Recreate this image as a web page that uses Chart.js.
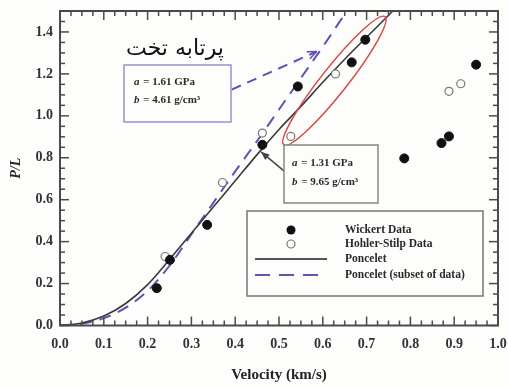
<!DOCTYPE html>
<html>
<head>
<meta charset="utf-8">
<script src="https://cdn.jsdelivr.net/npm/chart.js@4.4.1/dist/chart.umd.min.js"></script>
<style>
  html, body { margin: 0; padding: 0; background: #fdfdfb; }
  #wrap { width: 508px; height: 386px; }
</style>
</head>
<body>
<div id="wrap"><canvas id="chart" width="508" height="386"></canvas></div>
<script>
// measured points
const wickertV  = [0.221, 0.251, 0.336, 0.462, 0.543, 0.666, 0.697, 0.786, 0.871, 0.888, 0.950];
const wickertPL = [0.178, 0.313, 0.480, 0.862, 1.140, 1.255, 1.363, 0.797, 0.870, 0.902, 1.244];
const hohlerV   = [0.240, 0.371, 0.462, 0.527, 0.629, 0.888, 0.915];
const hohlerPL  = [0.329, 0.682, 0.918, 0.902, 1.200, 1.117, 1.153];

// fitted curves
const ponceletV   = [0, 0.05, 0.10, 0.15, 0.20, 0.25, 0.30, 0.35, 0.40, 0.45, 0.50, 0.55, 0.60, 0.65, 0.70, 0.76];
const ponceletPL  = [0, 0.012, 0.045, 0.105, 0.195, 0.315, 0.44, 0.565, 0.69, 0.815, 0.935, 1.045, 1.16, 1.27, 1.375, 1.5];
const subsetV     = [0, 0.05, 0.10, 0.15, 0.20, 0.25, 0.30, 0.35, 0.40, 0.45, 0.50, 0.55, 0.60, 0.655];
const subsetPL    = [0, 0.008, 0.035, 0.085, 0.165, 0.285, 0.435, 0.585, 0.735, 0.88, 1.03, 1.18, 1.33, 1.5];

const xTicks = [0, 0.1, 0.2, 0.3, 0.4, 0.5, 0.6, 0.7, 0.8, 0.9, 1.0];
const yTicks = [0, 0.2, 0.4, 0.6, 0.8, 1.0, 1.2, 1.4];

const seriesNames = ['Wickert Data', 'Hohler-Stilp Data', 'Poncelet', 'Poncelet (subset of data)'];

// annotation anchors in data units
const arrowSubset  = [[0.392, 1.125], [0.586, 1.307]];
const arrowFull    = [[0.514, 0.733], [0.459, 0.828]];
const ellipseEnds  = [[0.511, 0.862], [0.742, 1.473]];

const SERIF = '"Liberation Serif", "Times New Roman", serif';
const PURPLE = '#5e52b5';

function toPts(xs, ys) {
  return xs.map((x, i) => ({ x: x, y: ys[i] }));
}

function line(ctx, x1, y1, x2, y2) {
  ctx.beginPath();
  ctx.moveTo(x1, y1);
  ctx.lineTo(x2, y2);
  ctx.stroke();
}

function arrowHead(ctx, x1, y1, x2, y2, size, filled) {
  const ang = Math.atan2(y2 - y1, x2 - x1);
  ctx.beginPath();
  ctx.moveTo(x2, y2);
  ctx.lineTo(x2 - size * Math.cos(ang - 0.4), y2 - size * Math.sin(ang - 0.4));
  if (filled) {
    ctx.lineTo(x2 - size * Math.cos(ang + 0.4), y2 - size * Math.sin(ang + 0.4));
    ctx.closePath();
    ctx.fill();
  } else {
    ctx.moveTo(x2, y2);
    ctx.lineTo(x2 - size * Math.cos(ang + 0.4), y2 - size * Math.sin(ang + 0.4));
    ctx.stroke();
  }
}

function paramText(ctx, x, y, sym, rest) {
  ctx.font = 'italic bold 11px ' + SERIF;
  ctx.fillText(sym, x, y);
  const w = ctx.measureText(sym).width;
  ctx.font = 'bold 11px ' + SERIF;
  ctx.fillText(rest, x + w + 1, y);
}

const extras = {
  id: 'extras',
  beforeDraw(chart) {
    const ctx = chart.ctx;
    ctx.save();
    ctx.fillStyle = '#fdfdfb';
    ctx.fillRect(0, 0, chart.width, chart.height);
    ctx.restore();
  },
  afterDraw(chart) {
    const ctx = chart.ctx;
    const xs = chart.scales.x, ys = chart.scales.y, a = chart.chartArea;
    const px = v => xs.getPixelForValue(v);
    const py = v => ys.getPixelForValue(v);
    ctx.save();

    // frame + inward ticks on all four sides
    ctx.strokeStyle = '#4a4a4a';
    ctx.lineWidth = 1.5;
    for (let i = 0; i <= 40; i++) {
      const x = px(i * 0.025);
      const len = i % 4 === 0 ? 9 : 5;
      line(ctx, x, a.bottom, x, a.bottom - len);
      line(ctx, x, a.top, x, a.top + len);
    }
    for (let i = 0; i <= 30; i++) {
      const y = py(i * 0.05);
      const len = i % 4 === 0 ? 9 : 5;
      line(ctx, a.left, y, a.left + len, y);
      line(ctx, a.right, y, a.right - len, y);
    }
    ctx.lineWidth = 2;
    ctx.strokeRect(a.left, a.top, a.right - a.left, a.bottom - a.top);

    // red ellipse round the subset points
    const e1x = px(ellipseEnds[0][0]), e1y = py(ellipseEnds[0][1]);
    const e2x = px(ellipseEnds[1][0]), e2y = py(ellipseEnds[1][1]);
    const cx = (e1x + e2x) / 2, cy = (e1y + e2y) / 2;
    const rx = Math.hypot(e2x - e1x, e2y - e1y) / 2;
    ctx.strokeStyle = '#d8474c';
    ctx.lineWidth = 1.5;
    ctx.beginPath();
    ctx.ellipse(cx, cy, rx, 13, Math.atan2(e2y - e1y, e2x - e1x), 0, Math.PI * 2);
    ctx.stroke();

    // dashed pointer to the subset curve
    let ax1 = px(arrowSubset[0][0]), ay1 = py(arrowSubset[0][1]);
    let ax2 = px(arrowSubset[1][0]), ay2 = py(arrowSubset[1][1]);
    ctx.strokeStyle = PURPLE;
    ctx.lineWidth = 2;
    ctx.setLineDash([10, 7]);
    line(ctx, ax1, ay1, ax2, ay2);
    ctx.setLineDash([]);
    ctx.lineWidth = 1.5;
    arrowHead(ctx, ax1, ay1, ax2, ay2, 10, false);

    // solid pointer to the full curve
    ax1 = px(arrowFull[0][0]); ay1 = py(arrowFull[0][1]);
    ax2 = px(arrowFull[1][0]); ay2 = py(arrowFull[1][1]);
    ctx.strokeStyle = '#444';
    ctx.fillStyle = '#444';
    ctx.lineWidth = 1.5;
    line(ctx, ax1, ay1, ax2, ay2);
    arrowHead(ctx, ax1, ay1, ax2, ay2, 9, true);

    // parameter boxes
    ctx.fillStyle = '#fdfdfb';
    ctx.fillRect(124, 65, 107, 57);
    ctx.strokeStyle = '#9a8fd0';
    ctx.lineWidth = 1.5;
    ctx.strokeRect(124, 65, 107, 57);
    ctx.fillStyle = '#2a2a2a';
    ctx.textBaseline = 'middle';
    ctx.textAlign = 'left';
    paramText(ctx, 134, 82, 'a', ' = 1.61 GPa');
    paramText(ctx, 134, 100, 'b', ' = 4.61 g/cm\u00B3');

    ctx.fillStyle = '#fdfdfb';
    ctx.fillRect(284, 145, 94, 58);
    ctx.strokeStyle = '#8a8580';
    ctx.strokeRect(284, 145, 94, 58);
    ctx.fillStyle = '#2a2a2a';
    paramText(ctx, 292, 163, 'a', ' = 1.31 GPa');
    paramText(ctx, 292, 182, 'b', ' = 9.65 g/cm\u00B3');

    // legend
    ctx.fillStyle = '#fdfdfb';
    ctx.fillRect(247, 211, 236, 85);
    ctx.strokeStyle = '#777';
    ctx.lineWidth = 1.5;
    ctx.strokeRect(247, 211, 236, 85);
    const rows = [230, 244, 259, 275];
    ctx.fillStyle = '#111';
    ctx.beginPath(); ctx.arc(291, rows[0], 4.5, 0, Math.PI * 2); ctx.fill();
    ctx.strokeStyle = '#777'; ctx.lineWidth = 1.2;
    ctx.beginPath(); ctx.arc(291, rows[1], 4, 0, Math.PI * 2); ctx.stroke();
    ctx.strokeStyle = '#555'; ctx.lineWidth = 1.8;
    line(ctx, 255, rows[2], 327, rows[2]);
    ctx.strokeStyle = PURPLE; ctx.lineWidth = 2;
    ctx.setLineDash([15, 9]);
    line(ctx, 255, rows[3], 327, rows[3]);
    ctx.setLineDash([]);
    ctx.fillStyle = '#2a2a2a';
    ctx.font = 'bold 11.5px ' + SERIF;
    seriesNames.forEach((n, i) => ctx.fillText(n, 345, rows[i]));

    // Persian caption
    ctx.font = '22px "DejaVu Sans", "Noto Sans", sans-serif';
    ctx.fillStyle = '#111';
    ctx.textAlign = 'center';
    ctx.direction = 'rtl';
    ctx.fillText('پرتابه تخت', 175, 49);

    ctx.restore();
  }
};

new Chart(document.getElementById('chart'), {
  type: 'scatter',
  data: {
    datasets: [
      {
        label: seriesNames[0],
        data: toPts(wickertV, wickertPL),
        pointRadius: 4.5,
        pointBackgroundColor: '#111',
        pointBorderColor: '#111',
        pointBorderWidth: 1,
        order: 1
      },
      {
        label: seriesNames[1],
        data: toPts(hohlerV, hohlerPL),
        pointRadius: 4,
        pointBackgroundColor: '#fdfdfb',
        pointBorderColor: '#777',
        pointBorderWidth: 1.2,
        order: 2
      },
      {
        label: seriesNames[2],
        data: toPts(ponceletV, ponceletPL),
        showLine: true,
        pointRadius: 0,
        borderColor: '#3a3a3a',
        borderWidth: 1.6,
        cubicInterpolationMode: 'monotone',
        order: 3
      },
      {
        label: seriesNames[3],
        data: toPts(subsetV, subsetPL),
        showLine: true,
        pointRadius: 0,
        borderColor: PURPLE,
        borderWidth: 2,
        borderDash: [12, 8],
        cubicInterpolationMode: 'monotone',
        order: 4
      }
    ]
  },
  options: {
    responsive: false,
    animation: false,
    events: [],
    layout: { padding: { left: 0, right: 10, top: 11, bottom: 0 } },
    plugins: {
      legend: { display: false },
      tooltip: { enabled: false }
    },
    scales: {
      x: {
        type: 'linear',
        min: 0,
        max: 1,
        afterFit: s => { s.height = 60.5; s.paddingLeft = 0; s.paddingRight = 0; },
        afterBuildTicks: s => { s.ticks = xTicks.map(v => ({ value: v })); },
        grid: { display: false, drawTicks: false },
        border: { display: false },
        ticks: {
          padding: 10,
          color: '#333',
          font: { family: SERIF, size: 14, weight: 'bold' },
          callback: v => Number(v).toFixed(1)
        },
        title: {
          display: true,
          text: 'Velocity (km/s)',
          color: '#222',
          font: { family: SERIF, size: 15, weight: 'bold' },
          padding: { top: 0, bottom: 2 }
        }
      },
      y: {
        type: 'linear',
        min: 0,
        max: 1.5,
        afterFit: s => { s.width = 60; s.paddingTop = 0; s.paddingBottom = 0; },
        afterBuildTicks: s => { s.ticks = yTicks.map(v => ({ value: v })); },
        grid: { display: false, drawTicks: false },
        border: { display: false },
        ticks: {
          padding: 7,
          color: '#333',
          font: { family: SERIF, size: 14, weight: 'bold' },
          callback: v => Number(v).toFixed(1)
        },
        title: {
          display: true,
          text: 'P/L',
          color: '#222',
          font: { family: SERIF, size: 14, weight: 'bold', style: 'italic' },
          padding: { top: 8, bottom: 0 }
        }
      }
    }
  },
  plugins: [extras]
});
</script>
</body>
</html>
